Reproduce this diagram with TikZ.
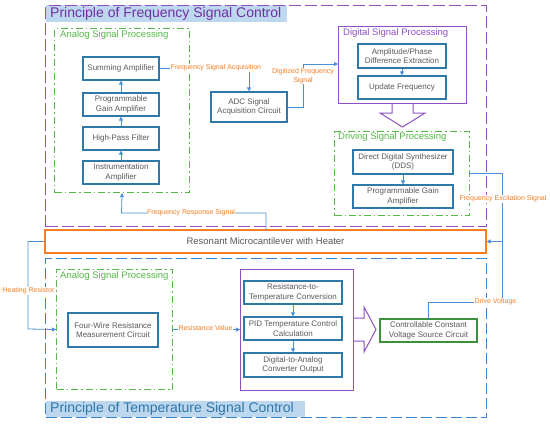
\documentclass[tikz,border=0pt]{standalone}
\usepackage{fontspec}
\setmainfont{Liberation Sans}
\usetikzlibrary{arrows.meta}
\definecolor{pur}{HTML}{9050C4}
\definecolor{purt}{HTML}{7030A0}
\definecolor{grn}{HTML}{55B848}
\definecolor{gdk}{HTML}{3C8F3C}
\definecolor{bbox}{HTML}{2E78AA}
\definecolor{bdl}{HTML}{3A86D0}
\definecolor{cblue}{HTML}{4A8FD8}
\definecolor{org}{HTML}{F47F24}
\definecolor{tbg}{HTML}{BDD7EE}
\definecolor{txt}{HTML}{5A5A5A}
\begin{document}
\begin{tikzpicture}[x=1pt,y=-1pt,
  blk/.style={draw=bbox, line width=1.2pt, rectangle, inner sep=1pt, align=center,
    text=txt, font=\fontsize{8}{9.5}\selectfont},
  cont/.style={rectangle, anchor=north west, inner sep=0pt},
  pdash/.style={draw=pur, line width=1.1pt, dash pattern=on 12pt off 4pt},
  bdash/.style={draw=bdl, line width=1.1pt, dash pattern=on 11pt off 4pt},
  gdd/.style={draw=grn, line width=1.1pt, dash pattern=on 7pt off 3pt on 1.5pt off 3pt},
  head/.style={anchor=west, inner sep=0pt, font=\fontsize{9.5}{11}\selectfont},
  conn/.style={draw=cblue, line width=0.8pt, -{Triangle[length=4pt,width=4pt]}},
  plain/.style={draw=cblue, line width=0.8pt},
  lbl/.style={fill=white, inner sep=0.5pt, text=org, align=center, font=\fontsize{7}{8.5}\selectfont},
  ttl/.style={anchor=west, inner sep=0pt, font=\fontsize{14}{16}\selectfont}
]
\useasboundingbox (0,0) rectangle (550,424);
\fill[white] (0,0) rectangle (550,424);

% ---------- top region ----------
\fill[tbg] (46,5) rectangle (287,22);
\node[cont, pdash, minimum width=441pt, minimum height=221pt] (top) at (45,5) {};
\node[ttl, text=purt] (ttop) at (50,13.5) {Principle of Frequency Signal Control};

\node[cont, gdd, minimum width=135pt, minimum height=164pt] (asp) at (54,28) {};
\node[head, text=grn] (hasp) at (60,35) {Analog Signal Processing};

\node[blk, minimum width=76pt, minimum height=23pt] (sum) at (121,68.5) {Summing Amplifier};
\node[blk, minimum width=76pt, minimum height=23pt] (pga1) at (121,104.5) {Programmable\\Gain Amplifier};
\node[blk, minimum width=76pt, minimum height=23pt] (hpf) at (121,138.5) {High-Pass Filter};
\node[blk, minimum width=76pt, minimum height=23pt] (ina) at (121,172.5) {Instrumentation\\Amplifier};

\node[blk, minimum width=76pt, minimum height=30pt] (adc) at (249,107) {ADC Signal\\Acquisition Circuit};

\node[cont, draw=pur, line width=1pt, minimum width=128pt, minimum height=77pt] (dsp) at (338,26) {};
\node[head, text=pur] (hdsp) at (343,33) {Digital Signal Processing};
\node[blk, minimum width=88pt, minimum height=24pt] (ampd) at (402,56) {Amplitude/Phase\\Difference Extraction};
\node[blk, minimum width=88pt, minimum height=23pt] (upd) at (402,87.5) {Update Frequency};

\node[cont, gdd, minimum width=135pt, minimum height=84pt] (drsp) at (334,131) {};
\node[head, text=grn] (hdrsp) at (338,137) {Driving Signal Processing};
\node[blk, minimum width=100pt, minimum height=24pt] (dds) at (403,162) {Direct Digital Synthesizer\\(DDS)};
\node[blk, minimum width=100pt, minimum height=23pt] (pga2) at (403,196.5) {Programmable Gain\\Amplifier};

% hollow arrow down
\draw[pur, line width=1pt, line join=miter] (392,103) -- (392,113) -- (380,113) -- (402.5,127) -- (425,113) -- (413,113) -- (413,103);

% ---------- resonant ----------
\node[rectangle, draw=org, line width=1.2pt, minimum width=441pt, minimum height=23pt, inner sep=0pt,
  text=txt, font=\fontsize{9.5}{11}\selectfont] (res) at (265.5,241.5) {Resonant Microcantilever with Heater};

% ---------- bottom region ----------
\node[cont, bdash, minimum width=441pt, minimum height=159pt] (bot) at (45,258) {};
\fill[tbg] (46,401) rectangle (305,417);
\node[ttl, text=bbox] (tbot) at (50,409) {Principle of Temperature Signal Control};

\node[cont, gdd, minimum width=116pt, minimum height=120pt] (asp2) at (56,269) {};
\node[head, text=grn] (hasp2) at (60,276) {Analog Signal Processing};
\node[blk, minimum width=90pt, minimum height=34pt] (four) at (113,330) {Four-Wire Resistance\\Measurement Circuit};

\node[cont, draw=pur, line width=1pt, minimum width=113pt, minimum height=121pt] (tsp) at (240,269) {};
\node[blk, minimum width=98pt, minimum height=23pt] (r2t) at (293,292.5) {Resistance-to-\\Temperature Conversion};
\node[blk, minimum width=98pt, minimum height=23pt] (pid) at (293,328.5) {PID Temperature Control\\Calculation};
\node[blk, minimum width=98pt, minimum height=24pt] (dac) at (293,365) {Digital-to-Analog\\Converter Output};

% hollow arrow right
\draw[pur, line width=1pt, line join=miter] (353,318) -- (364,318) -- (364,307) -- (376,329.5) -- (364,352) -- (364,341) -- (353,341);

\node[blk, draw=gdk, minimum width=97pt, minimum height=23pt] (ccv) at (428.5,330.5) {Controllable Constant\\Voltage Source Circuit};

% ---------- connectors ----------
\draw[conn] (ina) -- (hpf);
\draw[conn] (hpf) -- (pga1);
\draw[conn] (pga1) -- (sum);
\draw[conn] (sum.east) -| (adc.north);
\coordinate (dg) at (303,64);
\draw[conn] (adc.east) -| (dg) -- (dg -| dsp.west);
\draw[conn] (ampd) -- (upd);
\draw[conn] (dds) -- (pga2);
\draw[conn] (r2t) -- (pid);
\draw[conn] (pid) -- (dac);

\coordinate (vx) at (502,241.5);
\coordinate (dv) at (502,302);
\draw[conn] (drsp.east) -| (vx) -- (res.east);
\draw[plain] (ccv.north) |- (dv) -- (vx);

\coordinate (fr) at (121.5,213);
\draw[conn] (266,230) |- (fr) -- (asp.south);

\coordinate (hx) at (28,329);
\draw[conn] (res.west) -| (hx) -- (asp2.west);

\draw[conn] (asp2.east) -- (asp2.east -| tsp.west);

% ---------- labels ----------
\node[lbl] (l1) at (216,68) {Frequency Signal Acquisition};
\node[lbl] (l2) at (303,76) {Digitized Frequency\\Signal};
\node[lbl] (l3) at (503,199) {Frequency Excitation Signal};
\node[lbl] (l4) at (191,213) {Frequency Response Signal};
\node[lbl] (l5) at (28.5,291) {Heating Resistor};
\node[lbl] (l6) at (205.5,328) {Resistance Value};
\node[lbl] (l7) at (495.5,302) {Drive Voltage};
\end{tikzpicture}
\end{document}
